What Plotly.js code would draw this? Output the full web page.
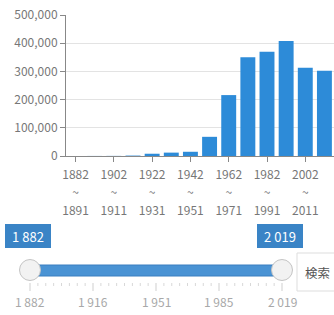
<!DOCTYPE html>
<html>
<head>
<meta charset="utf-8">
<script src="https://cdn.plot.ly/plotly-3.0.1.min.js"></script>
<style>
  html, body { margin: 0; padding: 0; background: #fff; overflow: hidden; }
  #chart { width: 334px; height: 315px; }
</style>
</head>
<body>
<div id="chart"></div>
<script>
// ---- data ----
const binStarts = [1882, 1892, 1902, 1912, 1922, 1932, 1942, 1952, 1962, 1972, 1982, 1992, 2002, 2012];
const binEnds   = [1891, 1901, 1911, 1921, 1931, 1941, 1951, 1961, 1971, 1981, 1991, 2001, 2011, 2019];
const counts    = [100, 200, 400, 1500, 8000, 12000, 15000, 68000, 216000, 350000, 370000, 408000, 313000, 302000];
const sliderMin = "1 882";
const sliderMax = "2 019";
const sliderTickLabels = ["1 882", "1 916", "1 951", "1 985", "2 019"];
const buttonLabel = "検索";

// ---- layout helpers (plot area: x 66..334, y 15..156 px) ----
const L = 66, R = 334, T = 15, B = 156;
const px = x => (x - L) / (R - L);
const py = y => (B - y) / (B - T);

const FONT = '"Noto Sans CJK JP", "Noto Sans", sans-serif';

const idx = binStarts.map((_, i) => i);
const tickIdx = idx.filter(i => i % 2 === 0);
const sp = t => '<span style="font-size:12px">' + t + '</span>';
const tickText = tickIdx.map(i => sp(binStarts[i]) + '<br>' + sp('~') + '<br>' + sp(binEnds[i]));

const trace = {
  type: 'bar',
  x: idx,
  y: counts,
  marker: { color: '#2d8bd8', line: { width: 0 } },
  hoverinfo: 'skip'
};

// slider geometry
const sx0 = 30, sx1 = 282, sy = 270;
const shapes = [];
// track
shapes.push({ type: 'rect', xref: 'paper', yref: 'paper',
  x0: px(sx0), x1: px(sx1), y0: py(265), y1: py(276),
  fillcolor: '#4a93d4', line: { color: '#3b7fc0', width: 1 }, layer: 'above' });
// ticks below track
const nMaj = sliderTickLabels.length;
for (let m = 0; m < nMaj; m++) {
  const x = sx0 + (sx1 - sx0) * m / (nMaj - 1);
  shapes.push({ type: 'line', xref: 'paper', yref: 'paper',
    x0: px(x), x1: px(x), y0: py(283), y1: py(291),
    line: { color: '#cfcfcf', width: 1 } });
  if (m < nMaj - 1) {
    for (let k = 1; k < 8; k++) {
      const xm = x + (sx1 - sx0) / (nMaj - 1) * k / 8;
      shapes.push({ type: 'line', xref: 'paper', yref: 'paper',
        x0: px(xm), x1: px(xm), y0: py(283), y1: py(286),
        line: { color: '#d8d8d8', width: 1 } });
    }
  }
}
// handles
[sx0, sx1].forEach(x => {
  shapes.push({ type: 'circle', xref: 'paper', yref: 'paper',
    x0: px(x - 10.5), x1: px(x + 10.5), y0: py(sy + 10.5), y1: py(sy - 10.5),
    fillcolor: '#f2f2f2', line: { color: '#c4c4c4', width: 1 }, layer: 'above' });
});
// button
shapes.push({ type: 'rect', xref: 'paper', yref: 'paper',
  x0: px(297), x1: px(345), y0: py(253), y1: py(291),
  fillcolor: '#ffffff', line: { color: '#dddddd', width: 1 } });

const annotations = [];
// value boxes
[[sliderMin, 28], [sliderMax, 280]].forEach(([t, cx]) => {
  annotations.push({ xref: 'paper', yref: 'paper', x: px(cx), y: py(236),
    xanchor: 'center', yanchor: 'middle', text: t, showarrow: false,
    bgcolor: '#3a84c6', bordercolor: '#3a84c6', borderpad: 0,
    width: 44, height: 22,
    font: { family: FONT, size: 13, color: '#ffffff' } });
});
// slider tick labels
sliderTickLabels.forEach((t, m) => {
  const x = sx0 + (sx1 - sx0) * m / (nMaj - 1);
  annotations.push({ xref: 'paper', yref: 'paper', x: px(x), y: py(301),
    xanchor: 'center', yanchor: 'middle', text: t, showarrow: false,
    font: { family: FONT, size: 12, color: '#a8a8a8' } });
});
// button label
annotations.push({ xref: 'paper', yref: 'paper', x: px(332), y: py(272),
  xanchor: 'right', yanchor: 'middle', text: buttonLabel, showarrow: false,
  font: { family: FONT, size: 12.5, color: '#555555' } });

const layout = {
  width: 334, height: 315,
  margin: { l: L, r: 334 - R, t: T, b: 315 - B, pad: 0 },
  paper_bgcolor: '#ffffff', plot_bgcolor: '#ffffff',
  showlegend: false,
  bargap: 0.22,
  font: { family: FONT, size: 12, color: '#777777' },
  xaxis: {
    range: [-0.5, 13.5],
    tickmode: 'array', tickvals: tickIdx, ticktext: tickText,
    ticks: 'outside', ticklen: 5, tickcolor: '#888888',
    showline: true, linecolor: '#888888', linewidth: 1,
    showgrid: false, zeroline: false, fixedrange: true,
    tickfont: { family: FONT, size: 14, color: '#777777' }
  },
  yaxis: {
    range: [0, 500000], dtick: 100000, tickformat: ',',
    ticks: 'outside', ticklen: 5, tickcolor: '#888888',
    showline: true, linecolor: '#888888', linewidth: 1,
    showgrid: true, gridcolor: '#e3e3e3', zeroline: false, fixedrange: true,
    tickfont: { family: FONT, size: 12, color: '#777777' }
  },
  shapes: shapes,
  annotations: annotations
};

Plotly.newPlot('chart', [trace], layout, { displayModeBar: false, staticPlot: true });
</script>
</body>
</html>
